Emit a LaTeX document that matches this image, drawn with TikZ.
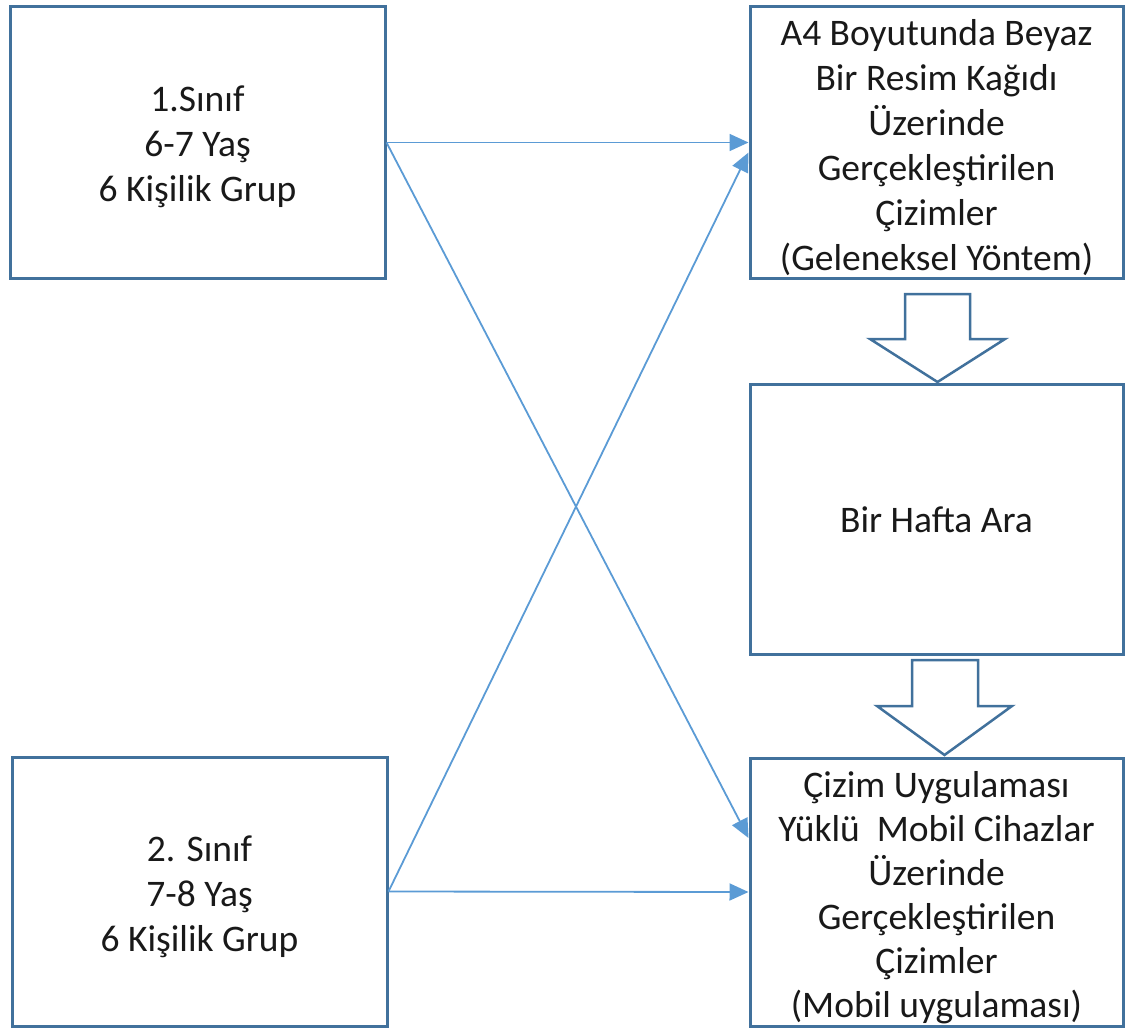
\documentclass[tikz,border=0pt]{standalone}
\usepackage{fontspec}
\setmainfont{Carlito}
\usetikzlibrary{arrows.meta}
\definecolor{boxblue}{RGB}{65,113,156}
\definecolor{lineblue}{RGB}{91,155,213}
\begin{document}
\begin{tikzpicture}[x=1pt,y=-1pt,
  box/.style={draw=boxblue,line width=3pt,fill=white,inner sep=0pt,rectangle},
  txt/.style={align=center,inner sep=0pt,font=\fontsize{37.5}{45}\selectfont,text=black!90},
  conn/.style={draw=lineblue,line width=1.8pt,-{Triangle[length=19pt,width=17pt]}},
  blockarrow/.style={draw=boxblue,line width=2.5pt,fill=white,line join=miter}]
\useasboundingbox (0,0) rectangle (1127,1030);
% boxes
\node[box,minimum width=375pt,minimum height=271pt] (TL) at (197.5,142.5) {};
\node[box,minimum width=375pt,minimum height=269pt] (BL) at (199.5,891.5) {};
\node[box,minimum width=373pt,minimum height=271pt] (TR) at (936.5,142.5) {};
\node[box,minimum width=373pt,minimum height=270pt] (MR) at (936.5,519) {};
\node[box,minimum width=373pt,minimum height=268pt] (BR) at (936.5,892) {};
% texts
\node[txt] (TLt) at ([yshift=-4pt]TL.center) {1.Sınıf\\6-7 Yaş\\6 Kişilik Grup};
\node[txt] (BLt) at ([yshift=-5pt]BL.center) {2. Sınıf\\7-8 Yaş\\6 Kişilik Grup};
\node[txt] (TRt) at ([yshift=-5pt]TR.center) {A4 Boyutunda Beyaz\\Bir Resim Kağıdı\\Üzerinde\\Gerçekleştirilen\\Çizimler\\(Geleneksel Yöntem)};
\node[txt] (MRt) at ([yshift=-1pt]MR.center) {Bir Hafta Ara};
\node[txt,font=\fontsize{37.5}{44}\selectfont] (BRt) at ([yshift=-6pt]BR.center) {Çizim Uygulaması\\Yüklü~~Mobil Cihazlar\\Üzerinde\\Gerçekleştirilen\\Çizimler\\(Mobil uygulaması)};
% block arrows
\draw[blockarrow] (905,294) -- (970,294) -- (970,339) -- (1005,339) -- (937.5,382) -- (870,339) -- (905,339) -- cycle;
\draw[blockarrow] (912,660) -- (978,660) -- (978,706) -- (1012,706) -- (944.5,755) -- (877,706) -- (912,706) -- cycle;
% connectors
\draw[conn] (TL.east) -- (TR.west);
\draw[conn] (TL.east) -- ([yshift=54pt]BR.west);
\draw[conn] (BL.east) -- ([yshift=-10pt]TR.west);
\draw[conn] (BL.east) -- (BR.west);
\end{tikzpicture}
\end{document}
